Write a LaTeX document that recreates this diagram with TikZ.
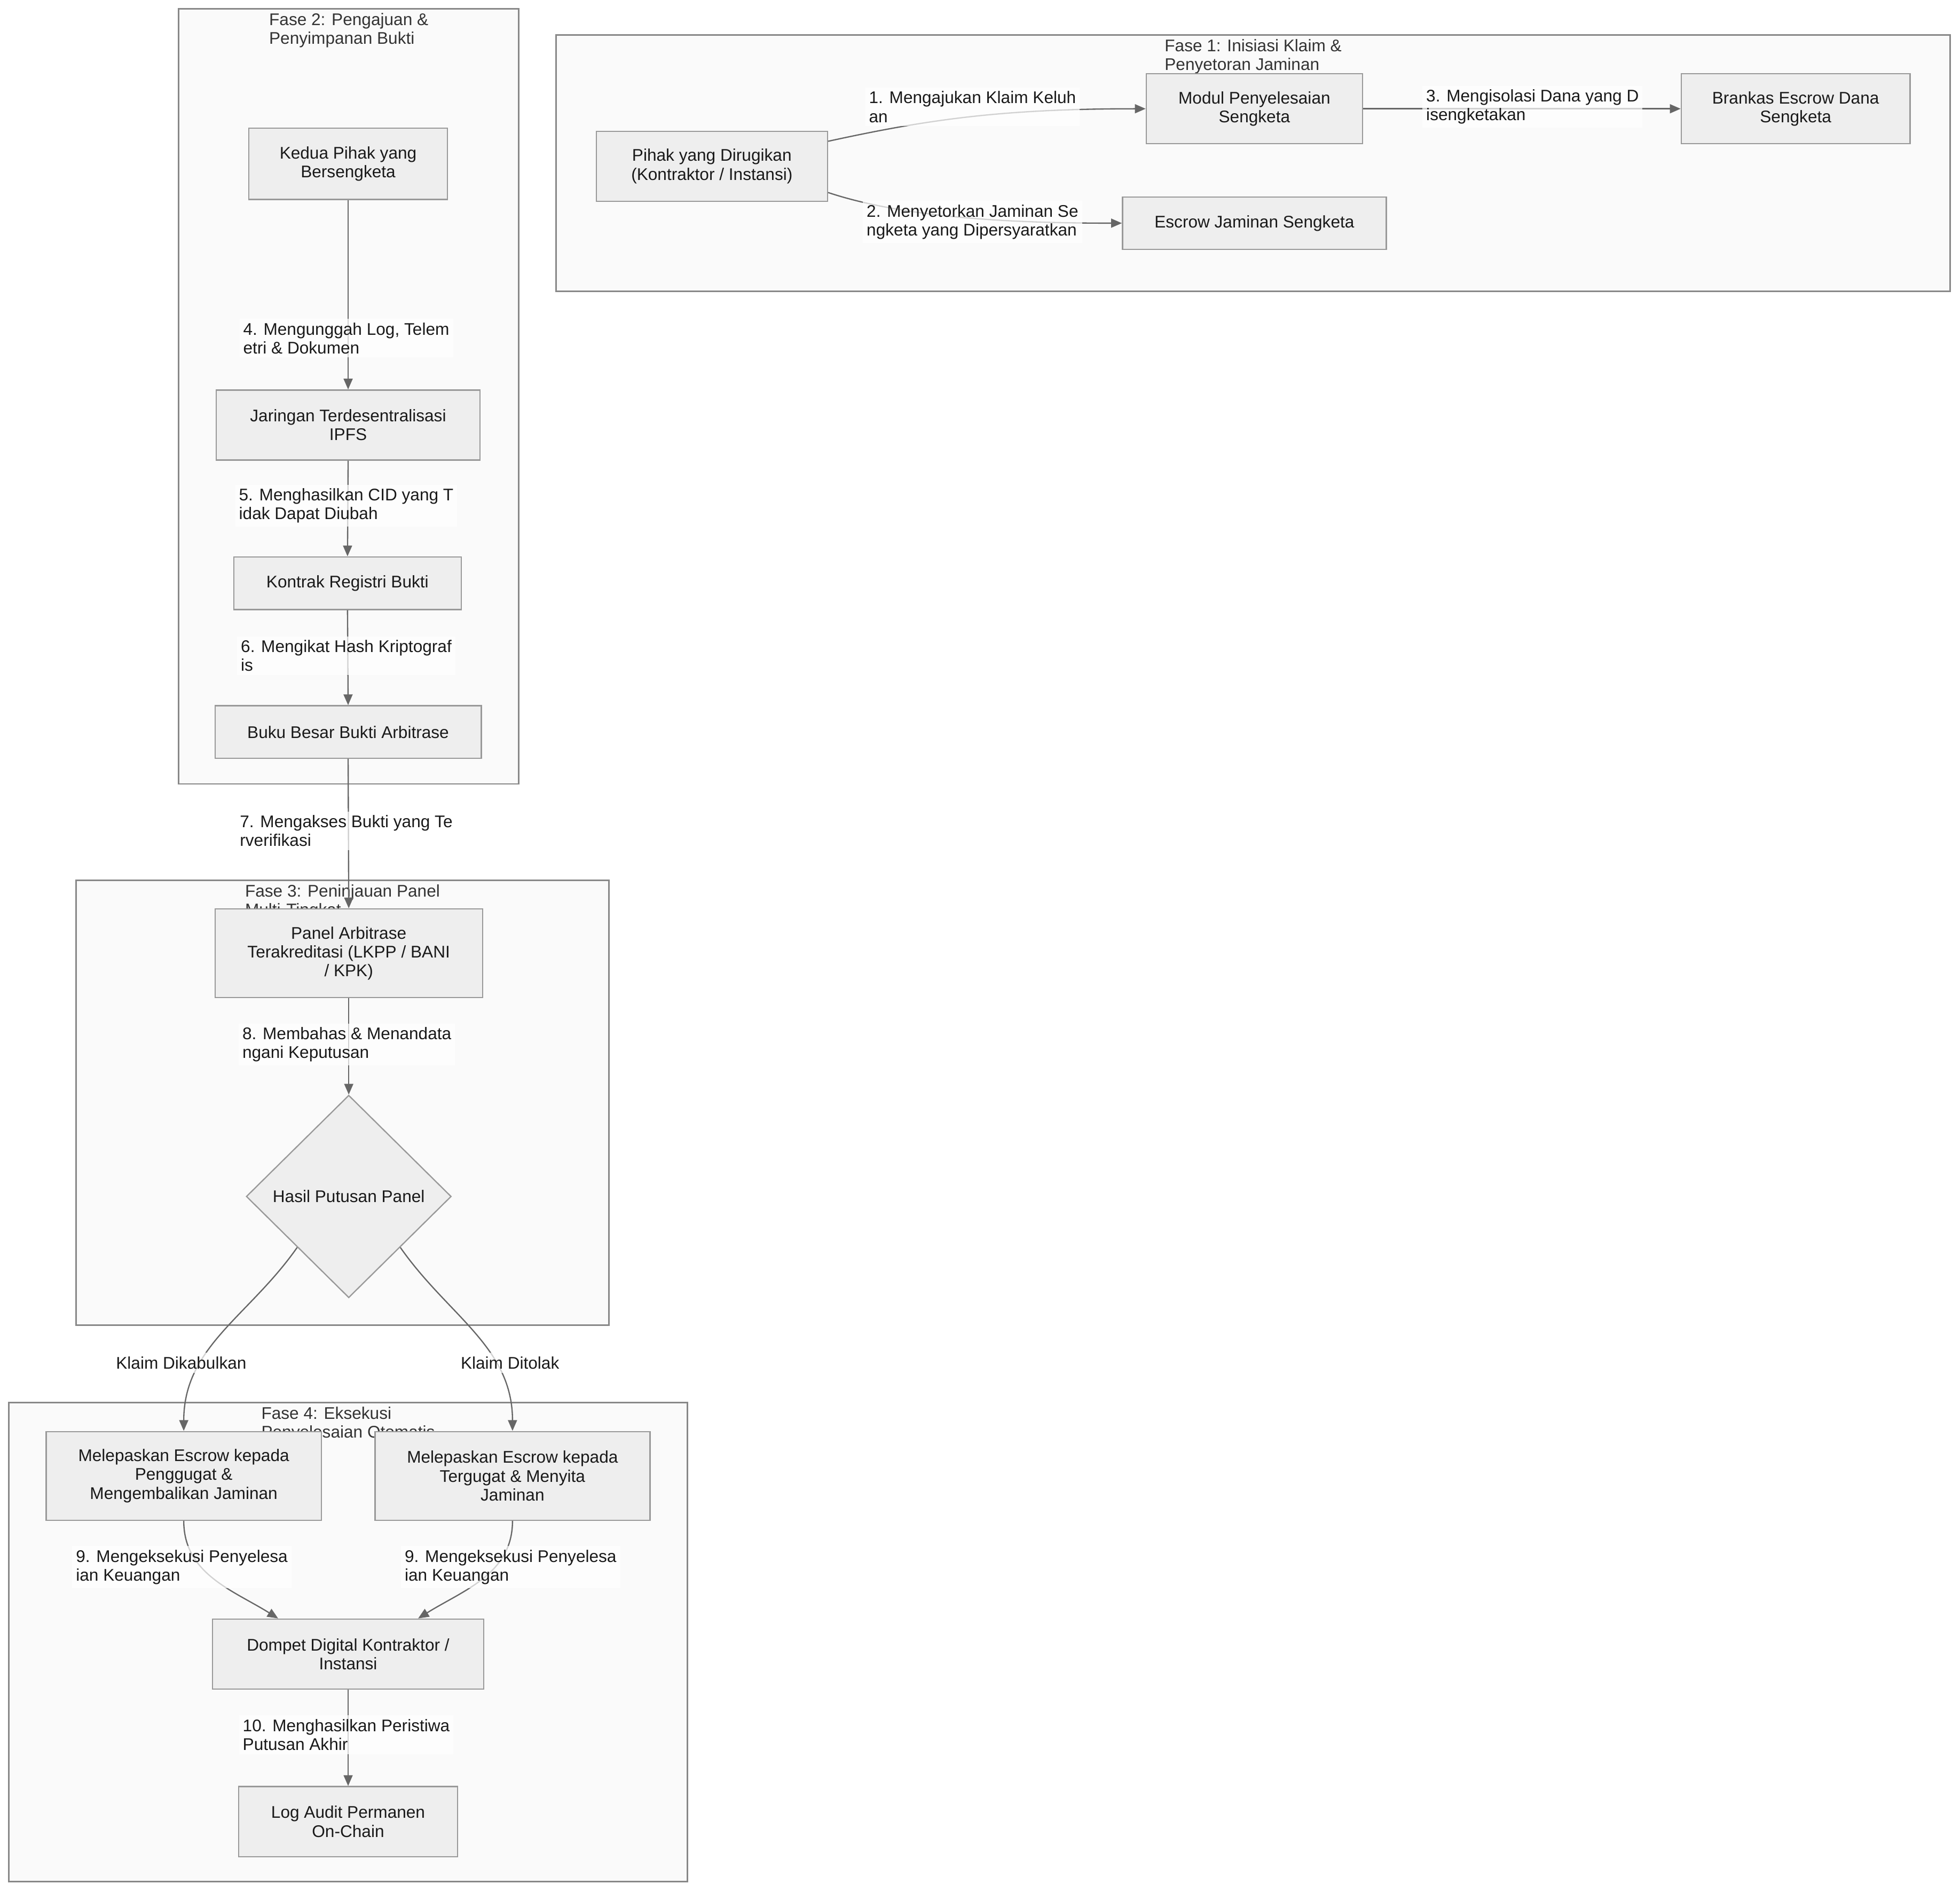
\documentclass[tikz,border=0pt]{standalone}
\usepackage{fontspec}
\setmainfont{Liberation Sans}
\usetikzlibrary{arrows.meta, shapes.geometric}
\definecolor{phasefill}{HTML}{FAFAFA}
\definecolor{phaseline}{HTML}{888888}
\definecolor{boxfill}{HTML}{EEEEEE}
\definecolor{boxline}{HTML}{999999}
\definecolor{arrowcol}{HTML}{666666}
\definecolor{titlecol}{HTML}{333333}
\newcommand{\diagfont}{\fontsize{6.75}{7.5}\selectfont}

\begin{document}
\begin{tikzpicture}[x=0.5pt, y=-0.5pt,
    phase/.style={draw=phaseline, fill=phasefill, line width=0.6pt},
    phasetitle/.style={anchor=north, align=left, text=titlecol, inner sep=0pt, font=\diagfont},
    box/.style={draw=boxline, fill=boxfill, line width=0.5pt, align=center, inner sep=1pt, text=black!90, font=\diagfont},
    decision/.style={box, diamond, minimum width=82pt, minimum height=81pt},
    lbl/.style={fill=white, fill opacity=0.7, text opacity=1, align=left, inner sep=1.5pt, text=black!90, font=\diagfont},
    flow/.style={draw=arrowcol, line width=0.5pt, -{Triangle[length=4.3pt, width=3.6pt]}}]
      \useasboundingbox (0,0) rectangle (1568,1513);
      % Phase boxes
      \draw[phase] (445,28) rectangle (1560,233);
      \draw[phase] (143,7) rectangle (415,627);
      \draw[phase] (61,704) rectangle (487,1060);
      \draw[phase] (7,1122) rectangle (550,1505);
      \node[phasetitle] (t1) at (1002.5,31) {Fase 1: Inisiasi Klaim \&\\Penyetoran Jaminan};
      \node[phasetitle] (t2) at (279,10) {Fase 2: Pengajuan \&\\Penyimpanan Bukti};
      \node[phasetitle] (t3) at (274,707) {Fase 3: Peninjauan Panel\\Multi-Tingkat};
      \node[phasetitle] (t4) at (278.5,1125) {Fase 4: Eksekusi\\Penyelesaian Otomatis};
      % Fase 1 nodes
      \node[box, minimum width=92.5pt, minimum height=28pt] (pihak) at (569.5,133) {Pihak yang Dirugikan\\(Kontraktor / Instansi)};
      \node[box, minimum width=86.5pt, minimum height=28pt] (modul) at (1003.5,87) {Modul Penyelesaian\\Sengketa};
      \node[box, minimum width=91.5pt, minimum height=28pt] (brankas) at (1436.5,87) {Brankas Escrow Dana\\Sengketa};
      \node[box, minimum width=105.5pt, minimum height=21pt] (escjam) at (1003.5,178.5) {Escrow Jaminan Sengketa};
      % Fase 2 nodes
      \node[box, minimum width=79.5pt, minimum height=28.5pt] (kedua) at (278.5,131) {Kedua Pihak yang\\Bersengketa};
      \node[box, minimum width=105.5pt, minimum height=28pt] (ipfs) at (278.5,340) {Jaringan Terdesentralisasi\\IPFS};
      \node[box, minimum width=91pt, minimum height=21pt] (registri) at (278,466.5) {Kontrak Registri Bukti};
      \node[box, minimum width=106.5pt, minimum height=21pt] (buku) at (278.5,585.5) {Buku Besar Bukti Arbitrase};
      % Fase 3 nodes
      \node[box, minimum width=107pt, minimum height=35.5pt] (panel) at (279,762.5) {Panel Arbitrase\\Terakreditasi (LKPP / BANI\\/ KPK)};
      \node[decision] (hasil) at (279,957) {Hasil Putusan Panel};
      % Fase 4 nodes
      \node[box, minimum width=110pt, minimum height=35.5pt] (lepas1) at (147,1180.5) {Melepaskan Escrow kepada\\Penggugat \&\\Mengembalikan Jaminan};
      \node[box, minimum width=110pt, minimum height=35.5pt] (lepas2) at (410,1180.5) {Melepaskan Escrow kepada\\Tergugat \& Menyita\\Jaminan};
      \node[box, minimum width=108.5pt, minimum height=28pt] (dompet) at (278.5,1323) {Dompet Digital Kontraktor /\\Instansi};
      \node[box, minimum width=87.5pt, minimum height=28pt] (logaudit) at (278.5,1457) {Log Audit Permanen\\On-Chain};
      % Edges
      \draw[flow] ([yshift=10pt]pihak.east) .. controls +(78,-17) and +(-117,0) .. (modul.west);
      \draw[flow] ([yshift=-10.5pt]pihak.east) .. controls +(60,20) and +(-90,0) .. (escjam.west);
      \draw[flow] (modul.east) -- (brankas.west);
      \draw[flow] (kedua.south) -- (ipfs.north);
      \draw[flow] (ipfs.south) -- (registri.north);
      \draw[flow] (registri.south) -- (buku.north);
      \draw[flow] (buku.south) -- (panel.north);
      \draw[flow] (panel.south) -- (hasil.north);
      \draw[flow] (hasil.south west) to[out=-125, in=90] (lepas1.north);
      \draw[flow] (hasil.south east) to[out=-55, in=90] (lepas2.north);
      \draw[flow] (lepas1.south) to[out=-90, in=148] ([xshift=-28pt]dompet.north);
      \draw[flow] (lepas2.south) to[out=-90, in=32] ([xshift=28pt]dompet.north);
      \draw[flow] (dompet.south) -- (logaudit.north);
      % Edge labels
      \node[lbl] (l1) at (778,85.5) {1. Mengajukan Klaim Keluh\\an};
      \node[lbl] (l2) at (778,177.5) {2. Menyetorkan Jaminan Se\\ngketa yang Dipersyaratkan};
      \node[lbl] (l3) at (1226,85.5) {3. Mengisolasi Dana yang D\\isengketakan};
      \node[lbl] (l4) at (277,270.5) {4. Mengunggah Log, Telem\\etri \& Dokumen};
      \node[lbl] (l5) at (277,404.5) {5. Menghasilkan CID yang T\\idak Dapat Diubah};
      \node[lbl] (l6) at (277,524.5) {6. Mengikat Hash Kriptograf\\is};
      \node[lbl] (l7) at (277,664.5) {7. Mengakses Bukti yang Te\\rverifikasi};
      \node[lbl] (l8) at (277.5,835.5) {8. Membahas \& Menandata\\ngani Keputusan};
      \node[lbl] (lya) at (145,1090) {Klaim Dikabulkan};
      \node[lbl] (ltidak) at (408,1090) {Klaim Ditolak};
      \node[lbl] (l9a) at (145.5,1253.5) {9. Mengeksekusi Penyelesa\\ian Keuangan};
      \node[lbl] (l9b) at (408.5,1253.5) {9. Mengeksekusi Penyelesa\\ian Keuangan};
      \node[lbl] (l10) at (277,1387.5) {10. Menghasilkan Peristiwa\\Putusan Akhir};
    \end{tikzpicture}
\end{document}
